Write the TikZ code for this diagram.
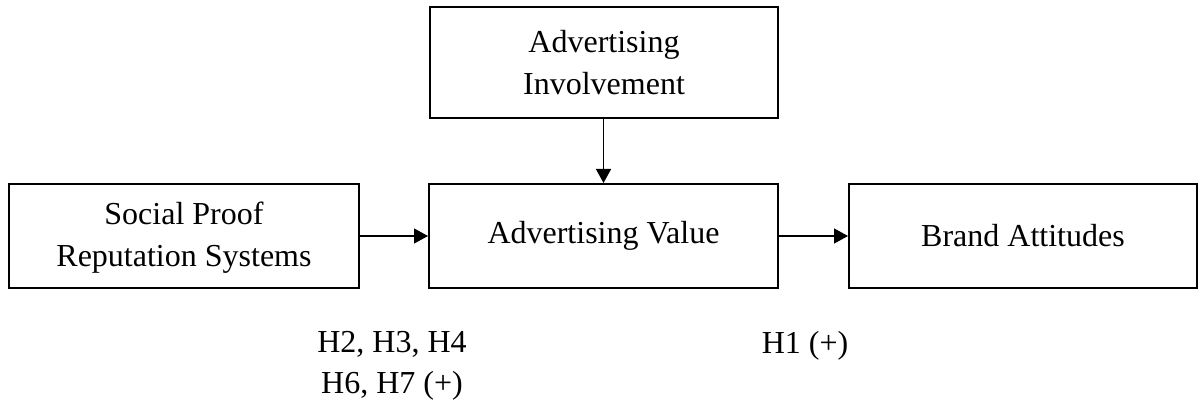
\documentclass[tikz,border=0pt]{standalone}
\usepackage{fontspec}
\setmainfont{Liberation Serif}
\usetikzlibrary{arrows.meta}
\begin{document}
\begin{tikzpicture}[x=1pt,y=-1pt,
  every node/.style={font=\fontsize{32}{41.6}\selectfont, inner sep=0pt},
  box/.style={draw=black, line width=2pt, rectangle, align=center, minimum height=104pt},
  conn/.style={line width=1.4pt, -{Triangle[length=14pt,width=15pt]}},
  lbl/.style={align=center}]
\useasboundingbox (0,0) rectangle (1198,406);
\node[box, minimum width=348pt, minimum height=111pt] (inv) at (604,62.5) {Advertising\\Involvement};
\node[box, minimum width=350pt, text depth=4pt] (sp) at (184,236) {Social Proof\\Reputation Systems};
\node[box, minimum width=349pt] (val) at (603.5,236) {Advertising Value};
\node[box, minimum width=348pt] (ba) at (1023,236) {Brand Attitudes};
\draw[conn] (sp.east) -- (val.west);
\draw[conn] (val.east) -- (ba.west);
\draw[conn] (inv.south -| val.north) -- (val.north);
\node[lbl] (h2) at (392,366) {H2, H3, H4\\H6, H7 (+)};
\node[lbl] (h1) at (805,346) {H1 (+)};
\end{tikzpicture}
\end{document}
